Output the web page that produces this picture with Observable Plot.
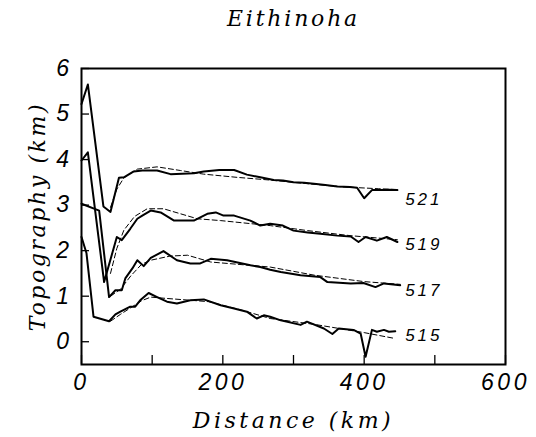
<!DOCTYPE html>
<html><head><meta charset="utf-8">
<script src="https://cdn.jsdelivr.net/npm/d3@7"></script>
<script src="https://cdn.jsdelivr.net/npm/@observablehq/plot@0.6"></script>
<style>
body{margin:0;background:#fff;}
</style></head><body><div id="chart"></div><script>
const chartTitle = "Eithinoha";
const xTitle = "Distance (km)";
const yTitle = "Topography (km)";
const xTicks = [0, 100, 200, 300, 400, 500, 600];
const xTickLabels = [0, 200, 400, 600];
const yTicks = [0, 1, 2, 3, 4, 5, 6];

const profiles = ["521", "519", "517", "515"];
const labelY = [3.13, 2.13, 1.13, 0.13];
const labelX = 458;

// observed topography (solid)
const p521x = [0, 9, 31, 41, 53, 60, 74, 86, 107, 126, 159, 173, 195, 216, 234, 253, 272, 285, 300, 315, 329, 345, 362, 380, 390, 400, 411, 423, 435, 447];
const p521y = [5.22, 5.65, 2.97, 2.85, 3.60, 3.61, 3.74, 3.76, 3.76, 3.68, 3.70, 3.74, 3.77, 3.77, 3.67, 3.61, 3.55, 3.54, 3.50, 3.49, 3.47, 3.44, 3.41, 3.40, 3.38, 3.15, 3.33, 3.33, 3.34, 3.33];
const p519x = [0, 9, 32, 50, 57, 69, 79, 86, 98, 112, 131, 159, 178, 190, 201, 216, 239, 253, 267, 285, 300, 320, 338, 362, 381, 392, 402, 418, 432, 447];
const p519y = [3.98, 4.16, 1.31, 2.30, 2.23, 2.48, 2.70, 2.77, 2.88, 2.84, 2.66, 2.66, 2.81, 2.84, 2.77, 2.77, 2.66, 2.55, 2.59, 2.55, 2.44, 2.40, 2.37, 2.33, 2.31, 2.19, 2.30, 2.22, 2.30, 2.19];
const p517x = [0, 25, 39, 48, 57, 62, 72, 79, 88, 98, 116, 135, 154, 168, 183, 206, 239, 253, 267, 282, 310, 338, 348, 381, 399, 416, 428, 451];
const p517y = [3.03, 2.88, 0.98, 1.13, 1.13, 1.39, 1.61, 1.79, 1.66, 1.84, 1.99, 1.79, 1.72, 1.72, 1.82, 1.79, 1.68, 1.64, 1.58, 1.53, 1.46, 1.42, 1.31, 1.28, 1.29, 1.20, 1.28, 1.24];
const p515x = [0, 7, 17, 39, 48, 55, 69, 76, 83, 95, 107, 121, 135, 154, 173, 197, 216, 234, 248, 258, 267, 282, 310, 319, 343, 355, 364, 385, 395, 402, 411, 418, 428, 435, 444];
const p515y = [2.30, 1.95, 0.55, 0.45, 0.60, 0.66, 0.77, 0.77, 0.91, 1.07, 0.98, 0.88, 0.84, 0.91, 0.93, 0.80, 0.73, 0.66, 0.51, 0.58, 0.55, 0.47, 0.37, 0.44, 0.29, 0.17, 0.29, 0.26, 0.18, -0.33, 0.26, 0.22, 0.26, 0.22, 0.23];

// model fit (dashed)
const d521x = [41, 50, 60, 79, 107, 140, 173, 220, 267, 320, 370, 420, 447];
const d521y = [2.95, 3.35, 3.60, 3.79, 3.84, 3.76, 3.68, 3.61, 3.55, 3.47, 3.40, 3.36, 3.34];
const d519x = [41, 50, 60, 75, 93, 116, 164, 197, 267, 320, 380, 447];
const d519y = [1.50, 2.05, 2.45, 2.75, 2.92, 2.92, 2.70, 2.66, 2.55, 2.44, 2.33, 2.24];
const d517x = [41, 55, 70, 85, 98, 125, 150, 183, 267, 330, 400, 451];
const d517y = [1.00, 1.15, 1.45, 1.70, 1.79, 1.88, 1.90, 1.75, 1.64, 1.46, 1.32, 1.26];
const d515x = [41, 55, 70, 85, 98, 121, 180, 230, 267, 330, 400, 444];
const d515y = [0.45, 0.60, 0.75, 0.90, 0.98, 0.95, 0.88, 0.68, 0.51, 0.38, 0.20, 0.07];

const zip = (name, xs, ys) => xs.map((x, i) => ({profile: name, x, y: ys[i]}));
const solid = [
  ...zip("521", p521x, p521y), ...zip("519", p519x, p519y),
  ...zip("517", p517x, p517y), ...zip("515", p515x, p515y)
];
const dashed = [
  ...zip("521", d521x, d521y), ...zip("519", d519x, d519y),
  ...zip("517", d517x, d517y), ...zip("515", d515x, d515y)
];
const labels = profiles.map((p, i) => ({profile: p, x: labelX, y: labelY[i]}));

const serif = "'DejaVu Serif', serif";
const sans = "'Liberation Sans', Arial, sans-serif";

const chart = Plot.plot({
  width: 536, height: 437,
  marginLeft: 81, marginRight: 31, marginTop: 68, marginBottom: 73,
  style: {background: "#fff", color: "#000"},
  x: {domain: [0, 600]},
  y: {domain: [-0.5, 6]},
  marks: [
    Plot.axisX({ticks: xTicks, tickSize: -9, tickPadding: 18, stroke: "#000", strokeWidth: 1.3,
      tickFormat: d => xTickLabels.includes(d) ? String(d) : "",
      fontSize: 23, fontFamily: sans, fontStyle: "italic", label: null}),
    Plot.axisY({ticks: yTicks, tickSize: -8, tickPadding: 17, stroke: "#000", strokeWidth: 1.3,
      tickFormat: d => String(d),
      fontSize: 23, fontFamily: sans, fontStyle: "italic", label: null}),
    Plot.line(dashed, {x: "x", y: "y", z: "profile", stroke: "#000", strokeWidth: 1, strokeDasharray: "5,3"}),
    Plot.line(solid, {x: "x", y: "y", z: "profile", stroke: "#000", strokeWidth: 2}),
    Plot.text(labels, {x: "x", y: "y", text: "profile", textAnchor: "start", fontSize: 17,
      fontFamily: sans, fontStyle: "italic", fill: "#000"}),
    Plot.frame({stroke: "#000", strokeWidth: 2}),
    Plot.text([chartTitle], {frameAnchor: "top", dy: -50, lineAnchor: "middle", textAnchor: "middle",
      fontSize: 22, fontFamily: serif, fontStyle: "italic", fill: "#000"}),
    Plot.text([xTitle], {frameAnchor: "bottom", dy: 56, lineAnchor: "middle", textAnchor: "middle",
      fontSize: 22, fontFamily: serif, fontStyle: "italic", fill: "#000"}),
    Plot.text([yTitle], {frameAnchor: "left", dx: -44, dy: 0, rotate: -90, lineAnchor: "middle",
      textAnchor: "middle", fontSize: 22, fontFamily: serif, fontStyle: "italic", fill: "#000"})
  ]
});

// letter spacing to mimic the wide plotter lettering
const spacing = new Map([[chartTitle, 2.8], [xTitle, 3.5], [yTitle, 2.6]]);
profiles.forEach(p => spacing.set(p, 3));
d3.select(chart).selectAll("text").each(function() {
  const t = this.textContent;
  const g = this.closest("g");
  const al = g ? g.getAttribute("aria-label") || "" : "";
  if (spacing.has(t)) this.style.letterSpacing = spacing.get(t) + "px";
  else if (al.includes("tick label")) this.style.letterSpacing = "3.5px";
});
document.getElementById("chart").appendChild(chart);
</script></body></html>
